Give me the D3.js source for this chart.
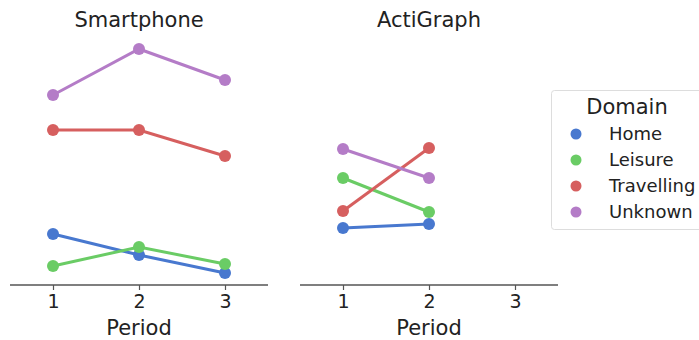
<!DOCTYPE html>
<html><head><meta charset="utf-8">
<script src="https://cdn.jsdelivr.net/npm/d3@7"></script>
<style>body{margin:0;background:#fff;} svg{display:block;font-family:"DejaVu Sans",sans-serif;}</style>
</head><body><svg id="c" width="699" height="340"></svg>
<script>
const periods = [1, 2, 3];
const domains = ["Home", "Leisure", "Travelling", "Unknown"];
const colors = ["#4878CF", "#6ACC65", "#D65F5F", "#B47CC7"];
const panels = ["Smartphone", "ActiGraph"];
// values per panel per domain (by period)
const smartHome = [20.4, 12.0, 4.8];
const smartLeisure = [7.6, 15.2, 8.4];
const smartTravelling = [62.0, 62.0, 51.6];
const smartUnknown = [76.0, 94.4, 82.0];
const actiHome = [22.8, 24.4];
const actiLeisure = [42.8, 29.2];
const actiTravelling = [29.6, 54.8];
const actiUnknown = [54.4, 42.8];

const panelData = [
  [smartHome, smartLeisure, smartTravelling, smartUnknown],
  [actiHome, actiLeisure, actiTravelling, actiUnknown]
];

const svg = d3.select("#c");
const y = d3.scaleLinear().domain([0, 100]).range([285, 35]);
const panelRanges = [[10, 268], [300, 558]];

panels.forEach((name, pi) => {
  const x = d3.scalePoint().domain(periods).range(panelRanges[pi]).padding(0.5);
  const g = svg.append("g");
  const ax = g.append("g").attr("transform", "translate(0,285)")
    .call(d3.axisBottom(x).tickSize(5).tickPadding(5));
  ax.attr("font-family", "DejaVu Sans").attr("font-size", 19);
  ax.select(".domain").attr("stroke", "#555").attr("stroke-width", 1.5)
    .attr("d", `M${panelRanges[pi][0]},0H${panelRanges[pi][1]}`);
  ax.selectAll(".tick line").attr("stroke", "#555").attr("stroke-width", 1.2);
  ax.selectAll(".tick text").attr("fill", "#222");
  const cx = (panelRanges[pi][0] + panelRanges[pi][1]) / 2;
  g.append("text").attr("x", cx).attr("y", 335).attr("text-anchor", "middle")
    .attr("font-size", 21).attr("fill", "#222").text("Period");
  g.append("text").attr("x", cx).attr("y", 27).attr("text-anchor", "middle")
    .attr("font-size", 21).attr("fill", "#222").text(name);

  panelData[pi].forEach((vals, di) => {
    const pts = vals.map((v, i) => [x(periods[i]), y(v)]);
    g.append("path").attr("d", d3.line()(pts)).attr("fill", "none")
      .attr("stroke", colors[di]).attr("stroke-width", 3);
    g.selectAll(null).data(pts).join("circle")
      .attr("cx", d => d[0]).attr("cy", d => d[1]).attr("r", 6)
      .attr("fill", colors[di]);
  });
});

// legend
const lg = svg.append("g");
lg.append("rect").attr("x", 551.5).attr("y", 90.5).attr("width", 160).attr("height", 139)
  .attr("rx", 3).attr("fill", "#fff").attr("stroke", "#ddd");
lg.append("text").attr("x", 627).attr("y", 114).attr("text-anchor", "middle")
  .attr("font-size", 21).attr("fill", "#222").text("Domain");
domains.forEach((d, i) => {
  const yy = 134 + i * 26;
  lg.append("circle").attr("cx", 576).attr("cy", yy).attr("r", 5.5).attr("fill", colors[i]);
  lg.append("text").attr("x", 609).attr("y", yy + 6).attr("font-size", 18)
    .attr("fill", "#222").text(d);
});
</script></body></html>
